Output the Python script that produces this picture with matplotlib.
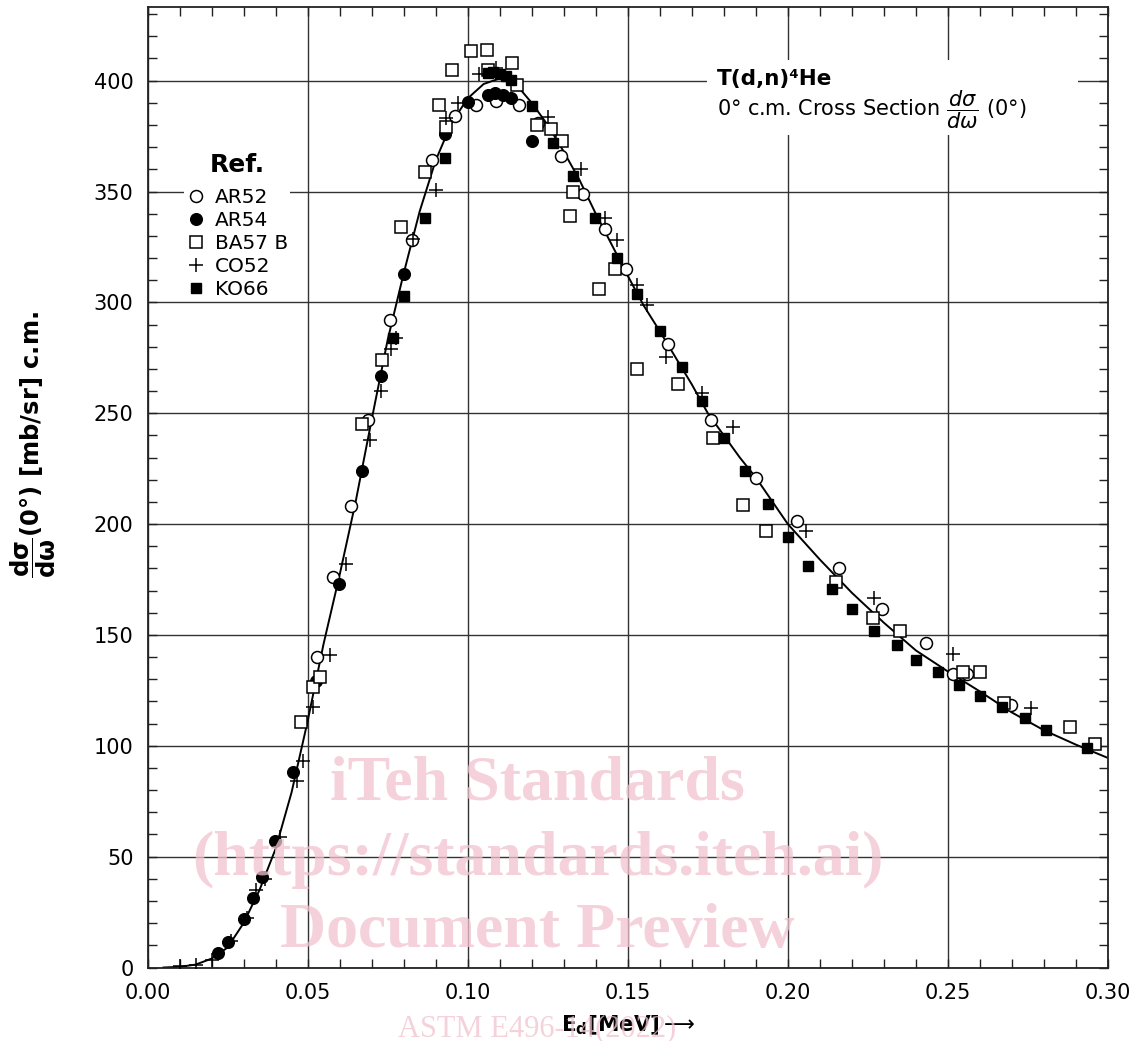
import matplotlib
matplotlib.use("Agg")
import matplotlib.pyplot as plt
from matplotlib.ticker import MultipleLocator, FormatStrFormatter
from matplotlib.patches import Rectangle

# ---------------- data ----------------
ar52_e = [0.053, 0.058, 0.0637, 0.069, 0.0758, 0.0826, 0.089, 0.096, 0.1027, 0.109, 0.116,
          0.122, 0.129, 0.136, 0.143, 0.1496, 0.1626, 0.176, 0.190, 0.203, 0.216, 0.2295,
          0.243, 0.2517, 0.256, 0.2697]
ar52_v = [140, 176, 208, 247, 292, 328, 364, 384, 389, 391, 389,
          381, 366, 349, 333, 315, 281, 247, 221, 201.5, 180, 161.5,
          146.5, 132.5, 132.5, 118.5]

ar54_e = [0.022, 0.025, 0.030, 0.033, 0.0358, 0.0397, 0.0456, 0.0527, 0.0598, 0.067, 0.0728,
          0.080, 0.0928, 0.100, 0.1065, 0.1085, 0.111, 0.1135, 0.120]
ar54_v = [6.7, 11.6, 22, 31.5, 41, 57, 88, 129, 173, 224, 267,
          313, 376, 390.5, 393.5, 394.5, 393.5, 392, 373]

ba57_e = [0.048, 0.0517, 0.054, 0.067, 0.0733, 0.0793, 0.0868, 0.091, 0.0931, 0.0952, 0.101,
          0.106, 0.1063, 0.114, 0.1155, 0.1215, 0.126, 0.1296, 0.133, 0.132, 0.141, 0.146,
          0.153, 0.1657, 0.1767, 0.186, 0.1933, 0.215, 0.2267, 0.235, 0.2548, 0.260, 0.2675,
          0.288, 0.296]
ba57_v = [110.6, 126.6, 131, 245, 274, 334, 358.6, 389, 379, 405, 413.5,
          414, 405, 408, 398, 380, 378, 373, 350, 339, 306, 315,
          270, 263.4, 239, 208.6, 197, 174, 157.5, 152, 133.4, 133.4, 119.4,
          108.6, 100.6]

co52_e = [0.010, 0.015, 0.020, 0.026, 0.031, 0.034, 0.0366, 0.0415, 0.0467, 0.0485, 0.0517,
          0.057, 0.062, 0.0694, 0.0728, 0.0762, 0.0777, 0.083, 0.090, 0.0933, 0.097, 0.1035,
          0.1088, 0.125, 0.1355, 0.143, 0.1465, 0.153, 0.156, 0.162, 0.1733, 0.183, 0.2056,
          0.227, 0.2515, 0.276]
co52_v = [0.7, 1.0, 3.4, 12, 22.5, 35, 40, 59, 84, 93, 117.6,
          141, 182, 238, 260, 279, 284, 328.4, 350.6, 383, 390, 403,
          405.5, 383.4, 360, 338, 328, 308, 299, 275.5, 259, 244, 197,
          166.5, 141.4, 117]

ko66_e = [0.0767, 0.080, 0.0868, 0.093, 0.1062, 0.108, 0.110, 0.112, 0.1135, 0.120, 0.1267,
          0.133, 0.1397, 0.1465, 0.153, 0.160, 0.167, 0.1733, 0.180, 0.1866, 0.1937, 0.200,
          0.2064, 0.2137, 0.220, 0.227, 0.234, 0.240, 0.247, 0.2535, 0.260, 0.267, 0.274,
          0.2805, 0.2933]
ko66_v = [284, 303, 338, 365, 403.5, 404, 403, 402, 400.5, 388.5, 372,
          357, 338, 320, 304, 287, 271, 255.6, 239, 224, 209, 194,
          181, 170.5, 161.5, 152, 145.5, 138.5, 133.4, 127.4, 122.4, 117.3, 112.4,
          107, 99]

# fitted curve
curve_e = [0.005, 0.010, 0.015, 0.020, 0.025, 0.030, 0.035, 0.040, 0.045, 0.050,
           0.055, 0.060, 0.065, 0.070, 0.075, 0.080, 0.085, 0.090, 0.095, 0.100,
           0.105, 0.110, 0.115, 0.120, 0.125, 0.130, 0.135, 0.140, 0.145, 0.150,
           0.155, 0.160, 0.165, 0.170, 0.175, 0.180, 0.185, 0.190, 0.195, 0.200,
           0.210, 0.220, 0.230, 0.240, 0.250, 0.260, 0.270, 0.280, 0.290, 0.300]
curve_v = [0.0, 0.3, 1.3, 4.0, 9.0, 20, 35, 53.5, 79, 111,
           146, 177, 210, 247, 283, 313, 341, 364, 381, 392,
           398.5, 401, 398.5, 390, 380, 368, 355, 340, 326, 312,
           298.5, 287, 275, 263, 250, 240, 230, 221, 210.5, 200,
           184, 169, 155.5, 143, 133.5, 124.5, 115, 107, 100.5, 94.5]

x_ticks = [0.00, 0.05, 0.10, 0.15, 0.20, 0.25, 0.30]
y_ticks = [0, 50, 100, 150, 200, 250, 300, 350, 400]

# ---------------- figure ----------------
plt.rcParams['font.family'] = ['DejaVu Sans']
plt.rcParams['mathtext.fontset'] = 'dejavusans'

fig = plt.figure(figsize=(11.39, 10.41), dpi=100)
ax = fig.add_axes([0.1295, 0.0706, 0.8433, 0.9222])

ax.set_xlim(0, 0.30)
ax.set_ylim(0, 433)
ax.set_xticks(x_ticks)
ax.set_yticks(y_ticks)
ax.xaxis.set_major_formatter(FormatStrFormatter('%.2f'))
ax.xaxis.set_minor_locator(MultipleLocator(0.01))
ax.yaxis.set_minor_locator(MultipleLocator(10))
ax.tick_params(which='both', direction='in', top=True, right=True, length=6.5,
               width=1.0, color='#222222')
ax.tick_params(axis='x', which='major', labelsize=15, pad=11)
ax.tick_params(axis='y', which='major', labelsize=15, pad=10)
for s in ax.spines.values():
    s.set_linewidth(1.3)
    s.set_color('#222222')
ax.grid(True, which='major', color='#333333', linewidth=1.0, zorder=0)
ax.set_axisbelow(True)

ax.plot(curve_e, curve_v, color='black', linewidth=1.4, zorder=2)

mk = dict(linestyle='none', zorder=3)
ax.plot(ar52_e, ar52_v, marker='o', markersize=8.6, markerfacecolor='white',
        markeredgecolor='black', markeredgewidth=1.1, label='AR52', **mk)
ax.plot(ar54_e, ar54_v, marker='o', markersize=8.4, markerfacecolor='black',
        markeredgecolor='black', markeredgewidth=1.0, label='AR54', **mk)
ax.plot(ba57_e, ba57_v, marker='s', markersize=8.0, markerfacecolor='white',
        markeredgecolor='black', markeredgewidth=1.1, label='BA57 B', **mk)
ax.plot(co52_e, co52_v, marker='+', markersize=10, markeredgecolor='black',
        markeredgewidth=1.1, label='CO52', **mk)
ax.plot(ko66_e, ko66_v, marker='s', markersize=7.2, markerfacecolor='black',
        markeredgecolor='black', markeredgewidth=1.0, label='KO66', **mk)

leg = ax.legend(loc='upper left', bbox_to_anchor=(0.038, 0.851), title='Ref.',
                fontsize=14.5, title_fontproperties={'weight': 'bold', 'size': 18},
                frameon=True, fancybox=False, edgecolor='none', facecolor='white',
                framealpha=1.0, labelspacing=0.2, handletextpad=0.45,
                handlelength=1.0, borderpad=0.1, borderaxespad=0.0)
leg.set_zorder(4)
leg._legend_box.sep = 8

ax.set_ylabel(r'$\dfrac{\mathbf{d\sigma}}{\mathbf{d\omega}}$(0°) [mb/sr] c.m.',
              fontsize=17.5, fontweight='bold')
ax.yaxis.set_label_coords(-0.093, 0.545)
ax.set_xlabel(r'$\mathbf{E}_{\mathbf{d}}\mathbf{[MeV]}\longrightarrow$', fontsize=15.5,
              labelpad=8)

# title block with a white background that interrupts the grid
ax.add_patch(Rectangle((0.583, 0.867), 0.386, 0.078, transform=ax.transAxes,
                       facecolor='white', edgecolor='none', zorder=4))
ax.text(0.593, 0.9255, 'T(d,n)⁴He', transform=ax.transAxes, ha='left', va='center',
        fontsize=15.5, fontweight='bold', zorder=6)
ax.text(0.593, 0.893, '0° c.m. Cross Section $\\dfrac{d\\sigma}{d\\omega}$ (0°)',
        transform=ax.transAxes, ha='left', va='center', fontsize=15, zorder=6)

# watermark
wm = dict(ha='center', va='center', color='#f2c4cf', alpha=0.75,
          family='Liberation Serif', fontweight='bold', zorder=10)
fig.text(0.472, 0.246, 'iTeh Standards', fontsize=46, **wm)
fig.text(0.472, 0.174, '(https://standards.iteh.ai)', fontsize=46, **wm)
fig.text(0.472, 0.105, 'Document Preview', fontsize=46, **wm)
fig.text(0.472, 0.012, 'ASTM E496-14(2022)', fontsize=22, ha='center', va='center',
         color='#f2c4cf', alpha=0.75, family='Liberation Serif', zorder=10)

fig.savefig('out.png', dpi=100)
